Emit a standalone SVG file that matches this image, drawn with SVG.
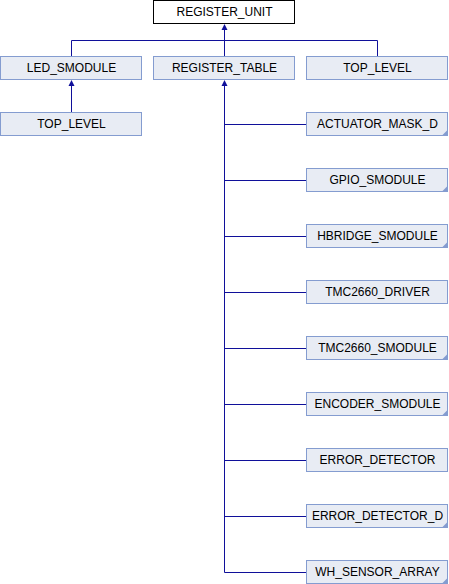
<svg xmlns="http://www.w3.org/2000/svg" width="449" height="584" viewBox="0 0 449 584">
<style>
.box{fill:#e8ecf4;stroke:#849cd0;stroke-width:1}
.cur{fill:#ffffff;stroke:#000000;stroke-width:1}
.lbl{font-family:"Liberation Sans",Arial,sans-serif;font-size:12px;fill:#000000;text-anchor:middle}
.ln{fill:none;stroke:#10109a;stroke-width:1}
.arr{fill:#10109a;stroke:none}
.crn{fill:#849cd0;stroke:none}
</style>
<rect width="449" height="584" fill="#ffffff"/>
<g id="connectors">
<path class="ln" d="M224.5,28 V56 M71.5,56 V40.5 H377.5 V56"/>
<polygon class="arr" points="224.5,24 221.5,30 227.5,30"/>
<path class="ln" d="M71.5,84 V112"/>
<polygon class="arr" points="71.5,80 68.5,86 74.5,86"/>
<path class="ln" d="M224.5,84 V572.5 M224.5,124.5 H306 M224.5,180.5 H306 M224.5,236.5 H306 M224.5,292.5 H306 M224.5,348.5 H306 M224.5,404.5 H306 M224.5,460.5 H306 M224.5,516.5 H306 M224.5,572.5 H306"/>
<polygon class="arr" points="224.5,80 221.5,86 227.5,86"/>
</g>
<g id="REGISTER_UNIT"><rect class="cur" x="153.5" y="0.5" width="141" height="23"/><text class="lbl" x="224.5" y="16">REGISTER_UNIT</text></g>
<g id="LED_SMODULE"><rect class="box" x="0.5" y="56.5" width="141" height="23"/><text class="lbl" x="71.5" y="72">LED_SMODULE</text></g>
<g id="REGISTER_TABLE"><rect class="box" x="153.5" y="56.5" width="141" height="23"/><text class="lbl" x="224.5" y="72">REGISTER_TABLE</text></g>
<g id="TOP_LEVEL_1"><rect class="box" x="306.5" y="56.5" width="141" height="23"/><text class="lbl" x="377.5" y="72">TOP_LEVEL</text></g>
<g id="TOP_LEVEL_2"><rect class="box" x="0.5" y="112.5" width="141" height="23"/><text class="lbl" x="71.5" y="128">TOP_LEVEL</text></g>
<g id="ACTUATOR_MASK_D"><rect class="box" x="306.5" y="112.5" width="141" height="23"/><polygon class="crn" points="442.5,135 447.5,130 447.5,135"/><text class="lbl" x="377.5" y="128">ACTUATOR_MASK_D</text></g>
<g id="GPIO_SMODULE"><rect class="box" x="306.5" y="168.5" width="141" height="23"/><polygon class="crn" points="442.5,191 447.5,186 447.5,191"/><text class="lbl" x="377.5" y="184">GPIO_SMODULE</text></g>
<g id="HBRIDGE_SMODULE"><rect class="box" x="306.5" y="224.5" width="141" height="23"/><polygon class="crn" points="442.5,247 447.5,242 447.5,247"/><text class="lbl" x="377.5" y="240">HBRIDGE_SMODULE</text></g>
<g id="TMC2660_DRIVER"><rect class="box" x="306.5" y="280.5" width="141" height="23"/><text class="lbl" x="377.5" y="296">TMC2660_DRIVER</text></g>
<g id="TMC2660_SMODULE"><rect class="box" x="306.5" y="336.5" width="141" height="23"/><polygon class="crn" points="442.5,359 447.5,354 447.5,359"/><text class="lbl" x="377.5" y="352">TMC2660_SMODULE</text></g>
<g id="ENCODER_SMODULE"><rect class="box" x="306.5" y="392.5" width="141" height="23"/><polygon class="crn" points="442.5,415 447.5,410 447.5,415"/><text class="lbl" x="377.5" y="408">ENCODER_SMODULE</text></g>
<g id="ERROR_DETECTOR"><rect class="box" x="306.5" y="448.5" width="141" height="23"/><text class="lbl" x="377.5" y="464">ERROR_DETECTOR</text></g>
<g id="ERROR_DETECTOR_D"><rect class="box" x="306.5" y="504.5" width="141" height="23"/><polygon class="crn" points="442.5,527 447.5,522 447.5,527"/><text class="lbl" x="377.5" y="520">ERROR_DETECTOR_D</text></g>
<g id="WH_SENSOR_ARRAY"><rect class="box" x="306.5" y="560.5" width="141" height="23"/><polygon class="crn" points="442.5,583 447.5,578 447.5,583"/><text class="lbl" x="377.5" y="576">WH_SENSOR_ARRAY</text></g>
</svg>
